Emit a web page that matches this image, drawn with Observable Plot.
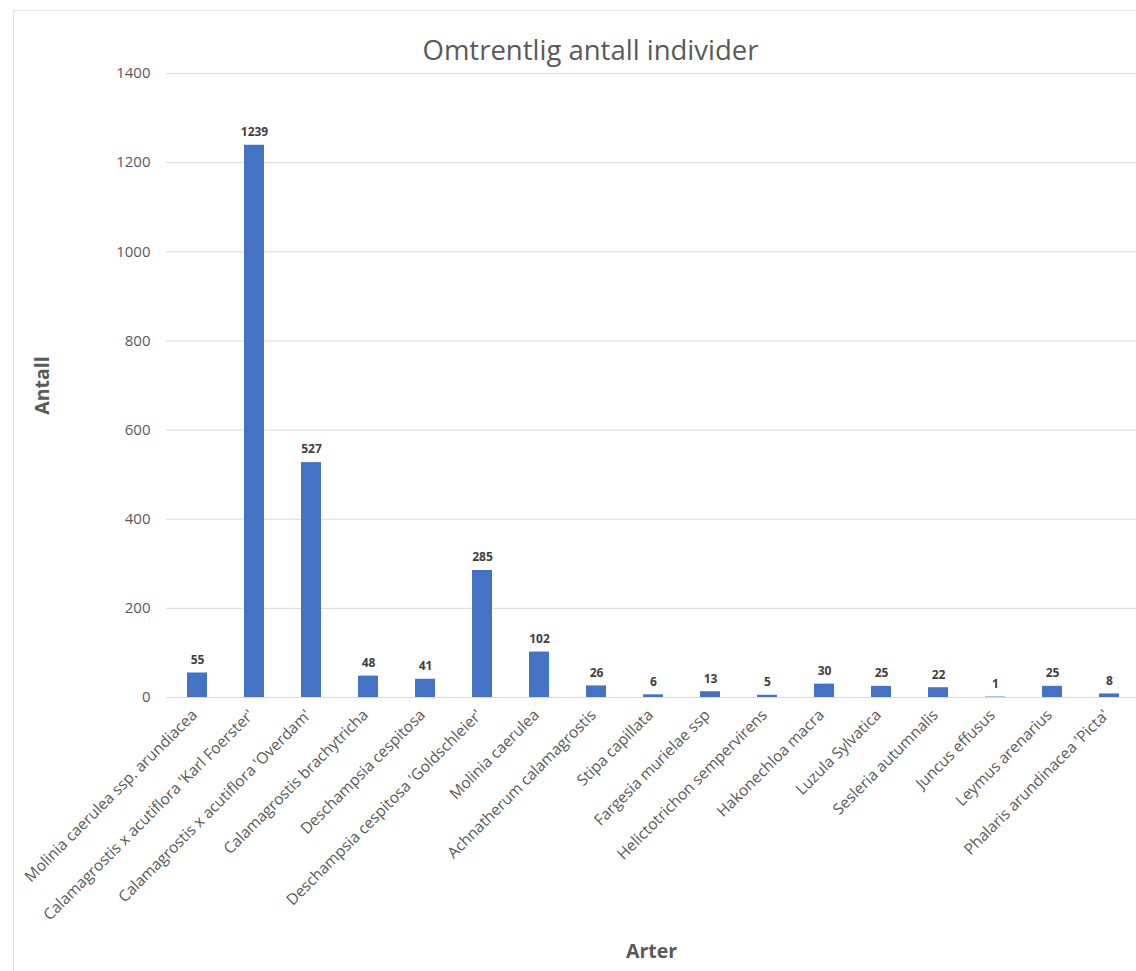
<!DOCTYPE html>
<html>
<head>
<meta charset="utf-8">
<script src="https://cdn.jsdelivr.net/npm/d3@7"></script>
<script src="https://cdn.jsdelivr.net/npm/@observablehq/plot@0.6"></script>
<style>
  html, body { margin: 0; padding: 0; background: #fff; }
  #wrap { position: relative; width: 1136px; height: 971px; overflow: hidden; }
  #border { position: absolute; left: 13px; top: 10px; width: 1200px; height: 1000px;
            border-left: 1.5px solid #e3e3e3; border-top: 1.5px solid #e3e3e3; box-sizing: border-box; }
  #chart { position: absolute; left: 0; top: 0; }
  svg { font-family: "Open Sans", sans-serif; }
</style>
</head>
<body>
<div id="wrap"><div id="border"></div><div id="chart"></div></div>
<script>
const categories = [
  "Molinia caerulea ssp. arundiacea",
  "Calamagrostis x acutiflora 'Karl Foerster'",
  "Calamagrostis x acutiflora 'Overdam'",
  "Calamagrostis brachytricha",
  "Deschampsia cespitosa",
  "Deschampsia cespitosa 'Goldschleier'",
  "Molinia caerulea",
  "Achnatherum calamagrostis",
  "Stipa capillata",
  "Fargesia murielae ssp",
  "Helictotrichon sempervirens",
  "Hakonechloa macra",
  "Luzula Sylvatica",
  "Sesleria autumnalis",
  "Juncus effusus",
  "Leymus arenarius",
  "Phalaris arundinacea 'Picta'"
];
const values = [55, 1239, 527, 48, 41, 285, 102, 26, 6, 13, 5, 30, 25, 22, 1, 25, 8];
const yTicks = [0, 200, 400, 600, 800, 1000, 1200, 1400];
const title = "Omtrentlig antall individer";
const yLabel = "Antall";
const xLabel = "Arter";

const data = categories.map((c, i) => ({category: c, value: values[i]}));

const chart = Plot.plot({
  width: 1136,
  height: 971,
  marginTop: 73,
  marginBottom: 274,
  marginLeft: 166,
  marginRight: 0,
  style: {fontFamily: "'Open Sans', sans-serif", color: "#595959", background: "transparent", overflow: "visible"},
  x: {domain: categories, range: [166, 1139], paddingInner: 0.65, paddingOuter: 0.325},
  y: {domain: [0, 1400]},
  marks: [
    Plot.gridY(yTicks, {stroke: "#d9d9d9", strokeOpacity: 1, strokeWidth: 1}),
    Plot.axisY(yTicks, {tickSize: 0, tickPadding: 16, fontSize: 15, fill: "#595959", label: null, tickFormat: d => String(d)}),
    Plot.axisX({tickSize: 0, tickPadding: 15, dx: -3, tickRotate: -45, fontSize: 15.5, fill: "#595959", label: null}),
    Plot.barY(data, {x: "category", y: "value", fill: "#4472C4"}),
    Plot.text(data, {x: "category", y: "value", text: d => String(d.value), dy: -13, fontSize: 12, fontWeight: "bold", fill: "#404040"}),
    Plot.text([title], {frameAnchor: "top", lineAnchor: "middle", textAnchor: "middle", dx: -61, dy: -22, fontSize: 27.5, fill: "#595959", text: d => d}),
    Plot.text([yLabel], {frameAnchor: "left", textAnchor: "middle", lineAnchor: "middle", dx: -124, rotate: -90, fontSize: 19.5, fontWeight: "bold", fill: "#595959", text: d => d}),
    Plot.text([xLabel], {frameAnchor: "bottom", textAnchor: "middle", lineAnchor: "middle", dx: 0, dy: 254, fontSize: 19.5, fontWeight: "bold", fill: "#595959", text: d => d})
  ]
});
document.getElementById("chart").appendChild(chart);
</script>
</body>
</html>
